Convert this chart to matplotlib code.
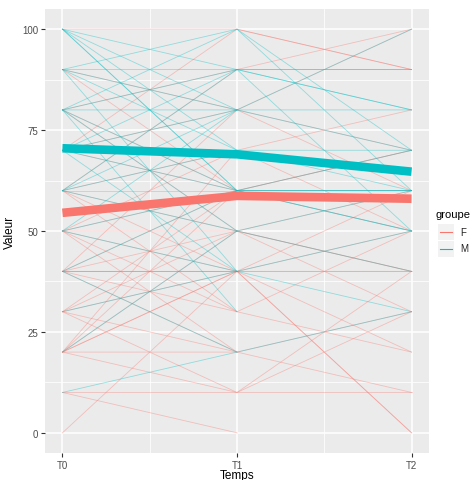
import matplotlib
matplotlib.use("Agg")
import matplotlib.pyplot as plt
import numpy as np
from matplotlib.lines import Line2D
from matplotlib.patches import Rectangle

plt.rcParams['font.family'] = ['Liberation Sans', 'DejaVu Sans']

times = [0, 1, 2]
time_labels = ["T0", "T1", "T2"]
y_ticks = [0, 25, 50, 75, 100]

na = np.nan
# individual trajectories (T0, T1, T2)
f_t0 = [100, 90, 80, 80, 70, 70, 60, 60, 60, 50, 50, 50, 50, 40, 40, 40, 40, 40, 40, 30, 30, 30,
        20, 20, 20, 20, 20, 20, 10, 10, 0, 60, 70, 50, 40, 60, 30, 50, 80, 90, 60, 20, 30, 40]
f_t1 = [100, 80, 90, 60, 60, 80, 50, 70, 40, 60, 40, 70, 50, 40, 50, 30, 60, 80, 20, 60, 50, 20,
        40, 20, 50, 60, 70, 10, 10, 0, 40, 90, 100, 30, 40, 60, 40, 20, 50, 60, 30, 40, 10, 40]
f_t2 = [90, 100, na, 60, 50, 70, na, 80, 40, na, 50, na, 40, 40, na, 50, 70, 60, 30, na, 40, na,
        na, 10, 60, na, 50, 40, 10, na, 0, 100, 90, 20, 0, na, 60, na, 30, 70, na, 20, 30, na]

m_t0 = [100, 100, 100, 100, 90, 90, 90, 90, 80, 80, 80, 80, 80, 70, 70, 70, 70, 60, 60, 60, 60,
        50, 50, 50, 40, 40, 30, 20, 10, 100, 90, 80]
m_t1 = [90, 80, 70, 60, 100, 90, 80, 70, 100, 90, 80, 60, 50, 90, 60, 80, 40, 80, 70, 90, 50,
        60, 80, 40, 20, 60, 40, 50, 20, 60, 40, 30]
m_t2 = [90, 80, 60, 50, 60, 80, na, 70, 70, 90, 100, 60, na, 80, 50, na, 50, 70, na, 50, 40,
        60, na, 30, na, 60, na, 60, 30, 70, na, na]

# group means
f_mean = [54.5, 58.7, 58.0]
m_mean = [70.5, 69.0, 64.7]

groups = ["F", "M"]
colors = {"F": "#F8766D", "M": "#00BFC4"}

W, H = 475, 481
fig = plt.figure(figsize=(W / 100, H / 100), dpi=100)
fig.patch.set_facecolor("white")
ax = fig.add_axes([45 / W, 1 - 454 / H, (429 - 45) / W, (454 - 10) / H])
ax.set_facecolor("#EBEBEB")

ax.set_xlim(-0.1, 2.1)
ax.set_ylim(-5, 105)
ax.set_xticks(times)
ax.set_xticklabels(time_labels)
ax.set_yticks(y_ticks)
ax.set_xticks([0.5, 1.5], minor=True)
ax.set_yticks([12.5, 37.5, 62.5, 87.5], minor=True)
ax.grid(True, which="major", color="white", linewidth=1.1)
ax.grid(True, which="minor", color="white", linewidth=0.55)
ax.set_axisbelow(True)
for s in ax.spines.values():
    s.set_visible(False)
ax.tick_params(which="major", length=3, width=0.8, color="#333333",
               labelcolor="#4D4D4D", labelsize=7, pad=2)
ax.tick_params(which="minor", length=0)

for a, b, c in zip(f_t0, f_t1, f_t2):
    ax.plot(times, [a, b, c], color=colors["F"], lw=0.6, alpha=0.38, zorder=2)
for a, b, c in zip(m_t0, m_t1, m_t2):
    ax.plot(times, [a, b, c], color=colors["M"], lw=0.6, alpha=0.38, zorder=2)

ax.plot(times, f_mean, color=colors["F"], lw=6.2, solid_capstyle="butt", zorder=3)
ax.plot(times, m_mean, color=colors["M"], lw=6.2, solid_capstyle="butt", zorder=3)

ax.set_xlabel("Temps", fontsize=8.5, labelpad=-1)
ax.set_ylabel("Valeur", fontsize=8.5, labelpad=4)

# legend
fig.text(436 / W, 1 - 215 / H, "groupe", fontsize=8, va="center", ha="left")
for i, g in enumerate(groups):
    yc = 233 + i * 16.5
    fig.patches.append(Rectangle((438 / W, 1 - (yc + 8) / H), 16 / W, 16 / H,
                                 transform=fig.transFigure, facecolor="#F2F2F2",
                                 edgecolor="none"))
    fig.lines.append(Line2D([440 / W, 452 / W], [1 - yc / H, 1 - yc / H],
                            transform=fig.transFigure, color=colors[g], lw=0.8))
    fig.text(460 / W, 1 - yc / H, g, fontsize=7, va="center", ha="left", color="#222222")

fig.savefig("out.png", dpi=100)
